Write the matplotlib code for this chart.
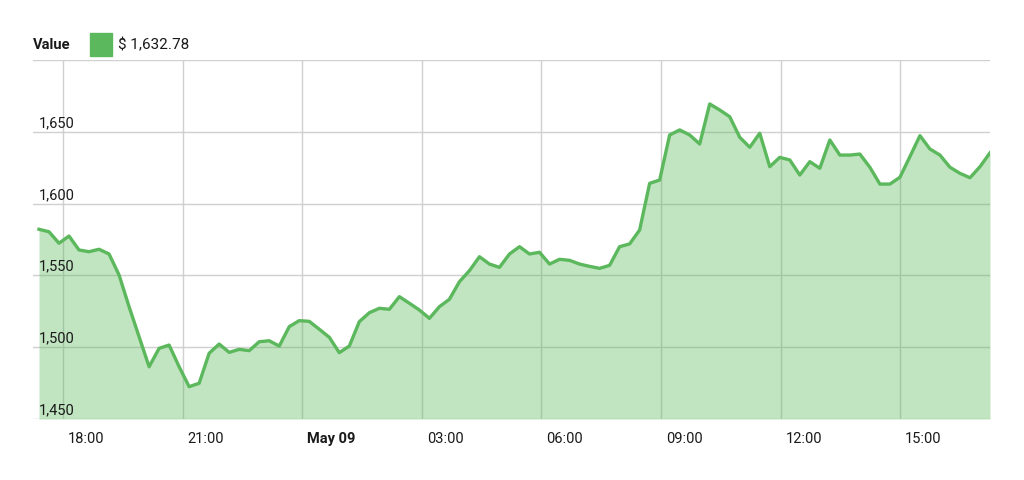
import pandas as pd
import matplotlib.pyplot as plt
import matplotlib.transforms as mtransforms
from matplotlib.patches import Rectangle

plt.rcParams['font.family'] = ['Roboto', 'DejaVu Sans']

# ~15-minute price samples
start = '2017-05-08 17:24'
end = '2017-05-09 17:15'
prices = [
    1582.1, 1580.4, 1572.4, 1577.4, 1567.7, 1566.5, 1568.2, 1564.9, 1550.3, 1528.2,
    1507.3, 1486.4, 1499.2, 1501.5, 1486.4, 1472.5, 1474.9, 1495.8, 1502.2, 1496.4,
    1498.5, 1497.6, 1503.8, 1504.5, 1500.8, 1514.3, 1518.5, 1518.0, 1512.5, 1506.9,
    1496.2, 1500.8, 1517.8, 1524.0, 1527.1, 1526.4, 1535.2, 1530.6, 1525.9, 1520.1,
    1528.2, 1533.4, 1545.6, 1553.3, 1563.0, 1557.9, 1555.6, 1564.9, 1570.0, 1564.9,
    1566.1, 1557.9, 1561.2, 1560.5, 1557.9, 1556.3, 1554.9, 1557.0, 1570.0, 1571.9,
    1581.6, 1614.1, 1616.4, 1647.8, 1651.3, 1647.8, 1641.5, 1669.4, 1665.2, 1660.5,
    1646.2, 1639.2, 1649.0, 1625.7, 1632.2, 1630.4, 1619.9, 1629.2, 1624.6, 1644.3,
    1633.8, 1633.8, 1634.5, 1625.3, 1613.6, 1613.6, 1618.3, 1632.7, 1647.3, 1638.0,
    1633.8, 1625.3, 1621.1, 1618.0, 1625.7, 1635.4,
]
times = pd.date_range(start, end, periods=len(prices))

tick_times = pd.to_datetime(['2017-05-08 18:00', '2017-05-08 21:00', '2017-05-09 00:00',
                             '2017-05-09 03:00', '2017-05-09 06:00', '2017-05-09 09:00',
                             '2017-05-09 12:00', '2017-05-09 15:00'])
tick_labels = ['18:00', '21:00', 'May 09', '03:00', '06:00', '09:00', '12:00', '15:00']
y_ticks = [1450, 1500, 1550, 1600, 1650, 1700]
legend_value = '$ 1,632.78'

green = '#5cb85c'

fig = plt.figure(figsize=(10.24, 4.8), dpi=100)
ax = fig.add_axes([33 / 1024, 61 / 480, 957 / 1024, 359 / 480])

ax.fill_between(times, prices, 1450, color=green, alpha=0.38, lw=0, zorder=2)
ax.plot(times, prices, color=green, lw=2.4, zorder=3, solid_joinstyle='round')

ax.set_xlim(pd.Timestamp('2017-05-08 17:15'), times[-1])
ax.set_ylim(1450, 1700)

ax.set_yticks(y_ticks)
ax.set_xticks(tick_times)
ax.grid(True, color='#d0d0d0', lw=1, zorder=0)
ax.set_axisbelow(True)
for s in ax.spines.values():
    s.set_visible(False)
ax.tick_params(length=0, labelleft=False, labelbottom=False)

# y labels sit inside the plot, just above their gridline
for v in y_ticks[:-1]:
    ax.text(0.006, v + 1.2, f'{v:,}', transform=ax.get_yaxis_transform(),
            ha='left', va='bottom', fontsize=10.5, color='#1a1a1a', zorder=4)

# x labels start just right of their gridline
off = mtransforms.ScaledTranslation(5 / 100, 0, fig.dpi_scale_trans)
for t, lab in zip(tick_times, tick_labels):
    ax.text(t, -0.055, lab, transform=ax.get_xaxis_transform() + off,
            ha='left', va='center', fontsize=10.5, color='#1a1a1a',
            fontweight='bold' if lab == 'May 09' else 'normal')

# legend row
fig.text(33 / 1024, 1 - 45 / 480, 'Value', fontsize=10.5, fontweight='bold',
         va='center', ha='left', color='#1a1a1a')
fig.patches.append(Rectangle((90 / 1024, 1 - 56 / 480), 22 / 1024, 23 / 480,
                             transform=fig.transFigure, color=green))
fig.text(118 / 1024, 1 - 45 / 480, legend_value, fontsize=11,
         va='center', ha='left', color='#1a1a1a')

fig.savefig('out.png', dpi=100)
